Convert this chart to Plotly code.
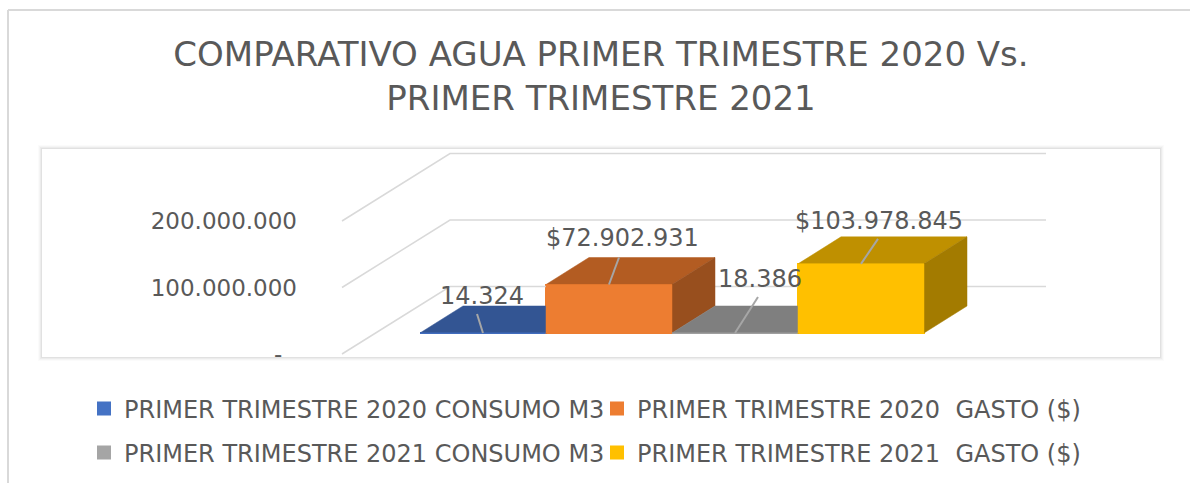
import plotly.graph_objects as go

# ---- data ----
series_names = ["PRIMER TRIMESTRE 2020 CONSUMO M3", "PRIMER TRIMESTRE 2020  GASTO ($)",
                "PRIMER TRIMESTRE 2021 CONSUMO M3", "PRIMER TRIMESTRE 2021  GASTO ($)"]
series_values = [14324, 72902931, 18386, 103978845]
value_labels = ["14.324", "$72.902.931", "18.386", "$103.978.845"]
front_colors = ["#4472C4", "#ED7D31", "#A5A5A5", "#FFC000"]
top_colors = ["#335593", "#B35C22", "#7F7F7F", "#BF9000"]
side_colors = ["#2A4675", "#984F1E", "#6B6B6B", "#A37B00"]
tick_values = [0, 100000000, 200000000]
tick_labels = ["-\u00a0\u00a0", "100.000.000", "200.000.000"]
title_text = "COMPARATIVO AGUA PRIMER TRIMESTRE 2020 Vs.<br>PRIMER TRIMESTRE 2021"

# ---- layout constants (pixels on the 1190x483 page) ----
W, H = 1190, 483
PX_PER_UNIT_Y = 66.5 / 100000000
PX_PER_CAT = 126
FIRST_CAT_PX = 483
ZERO_PX = 354
DOM_L, DOM_R, DOM_T, DOM_B = 298, 1160, 149, 357
FONT = "DejaVu Sans"
TXT = "#595959"
GRID = "#D9D9D9"

def dxp(px):  # horizontal pixels -> category units
    return px / PX_PER_CAT
def dyp(px):  # vertical pixels -> value units
    return px / PX_PER_UNIT_Y

xr = [dxp(DOM_L - FIRST_CAT_PX), dxp(DOM_R - FIRST_CAT_PX)]
yr = [dyp(ZERO_PX - DOM_B), dyp(ZERO_PX - DOM_T)]
cats = list(range(len(series_values)))

BAR_BASE = dyp(21)
BAR_DX, BAR_DY = dxp(43), dyp(27)
WALL_DX, WALL_DY = dxp(108), dyp(67.5)
WALL_X0 = dxp(342 - FIRST_CAT_PX)
WALL_X1 = dxp(1046 - FIRST_CAT_PX)

fig = go.Figure()

# value bars (also give the legend entries)
for i, name in enumerate(series_names):
    fig.add_trace(go.Bar(x=[cats[i]], y=[series_values[i]], base=BAR_BASE, width=1, name=name,
                         marker=dict(color=front_colors[i], line=dict(width=2, color=front_colors[i])),
                         legend="legend" if i < 2 else "legend2", hoverinfo="skip"))

# gridlines: diagonal on the side wall, then across the back wall
for v in tick_values:
    fig.add_trace(go.Scatter(x=[WALL_X0, WALL_X0 + WALL_DX, WALL_X1],
                             y=[v, v + WALL_DY, v + WALL_DY], mode="lines",
                             line=dict(color=GRID, width=1.5), showlegend=False, hoverinfo="skip"))

def poly(xs, ys, color):
    fig.add_trace(go.Scatter(x=xs, y=ys, mode="lines", fill="toself", fillcolor=color,
                             line=dict(color=color, width=0.5), showlegend=False, hoverinfo="skip"))

# the faces of each box, worked out from its value
for i, v in enumerate(series_values):
    l, r = cats[i] - 0.5, cats[i] + 0.5
    b, t = BAR_BASE, BAR_BASE + v
    poly([l, r, r + BAR_DX, l + BAR_DX, l], [t, t, t + BAR_DY, t + BAR_DY, t], top_colors[i])
    poly([r, r + BAR_DX, r + BAR_DX, r, r], [b, b + BAR_DY, t + BAR_DY, t, b], side_colors[i])
    poly([l, r, r, l, l], [b, b, t, t, b], front_colors[i])

# leader lines and data labels; offsets in pixels from the top centre of the front face
leader_end = [(-6, -19), (10, -27), (23, -36), (17, -25)]
label_pos = [(-1, -37), (13, -47), (25, -54), (18, -43)]
annots = []
for i, v in enumerate(series_values):
    t = BAR_BASE + v
    ex, ey = leader_end[i]
    fig.add_trace(go.Scatter(x=[cats[i], cats[i] + dxp(ex)], y=[t, t + dyp(-ey)], mode="lines",
                             line=dict(color="#A6A6A6", width=2), showlegend=False, hoverinfo="skip"))
    lx, ly = label_pos[i]
    annots.append(dict(x=cats[i] + dxp(lx), y=t + dyp(-ly), text=value_labels[i], showarrow=False,
                       xanchor="center", yanchor="middle", font=dict(family=FONT, size=24, color=TXT)))

def paper_rect(x0, y0, x1, y1, **kw):
    return dict(type="rect", xref="paper", yref="paper", x0=x0 / W, x1=x1 / W,
                y0=1 - y0 / H, y1=1 - y1 / H, layer="below", **kw)

shapes = []
# soft shadow and white panel
for grow, op in [(4, 0.03), (3, 0.05), (2, 0.07), (1, 0.10)]:
    shapes.append(paper_rect(42 - grow, 149 - grow, 1160 + grow, 357 + grow,
                             fillcolor="#808080", opacity=op, line=dict(width=0)))
shapes.append(paper_rect(42, 149, 1160, 357, fillcolor="white", line=dict(width=0)))
# outer chart frame
shapes.append(dict(type="line", xref="paper", yref="paper", x0=8 / W, x1=1190 / W,
                   y0=1 - 10 / H, y1=1 - 10 / H, line=dict(color=GRID, width=2), layer="below"))
shapes.append(dict(type="line", xref="paper", yref="paper", x0=8 / W, x1=8 / W,
                   y0=1 - 10 / H, y1=0, line=dict(color=GRID, width=2), layer="below"))

legend_common = dict(orientation="h", xanchor="left", yanchor="middle", bgcolor="rgba(0,0,0,0)",
                     entrywidth=468, entrywidthmode="pixels", traceorder="normal",
                     font=dict(family=FONT, size=24, color=TXT))

fig.update_layout(
    width=W, height=H, autosize=False,
    margin=dict(l=0, r=0, t=0, b=0, autoexpand=False), paper_bgcolor="white", plot_bgcolor="rgba(0,0,0,0)",
    barmode="overlay", bargap=0,
    title=dict(text=title_text, x=601 / W, xanchor="center", y=1 - 66 / H, yanchor="top",
               automargin=False, font=dict(family=FONT, size=34, color=TXT)),
    xaxis=dict(domain=[DOM_L / W, DOM_R / W], range=xr, visible=False, fixedrange=True),
    yaxis=dict(domain=[1 - DOM_B / H, 1 - DOM_T / H], range=yr, tickmode="array",
               tickvals=tick_values, ticktext=tick_labels, showgrid=False, zeroline=False,
               showline=False, ticks="", fixedrange=True,
               tickfont=dict(family=FONT, size=23, color=TXT)),
    legend=dict(x=84 / W, y=1 - 409 / H, **legend_common),
    legend2=dict(x=84 / W, y=1 - 453 / H, **legend_common),
    shapes=shapes, annotations=annots,
)
fig.write_html("out.html", config=dict(displayModeBar=False),
               post_script="document.body.style.margin='0';document.documentElement.style.overflow='hidden';")
